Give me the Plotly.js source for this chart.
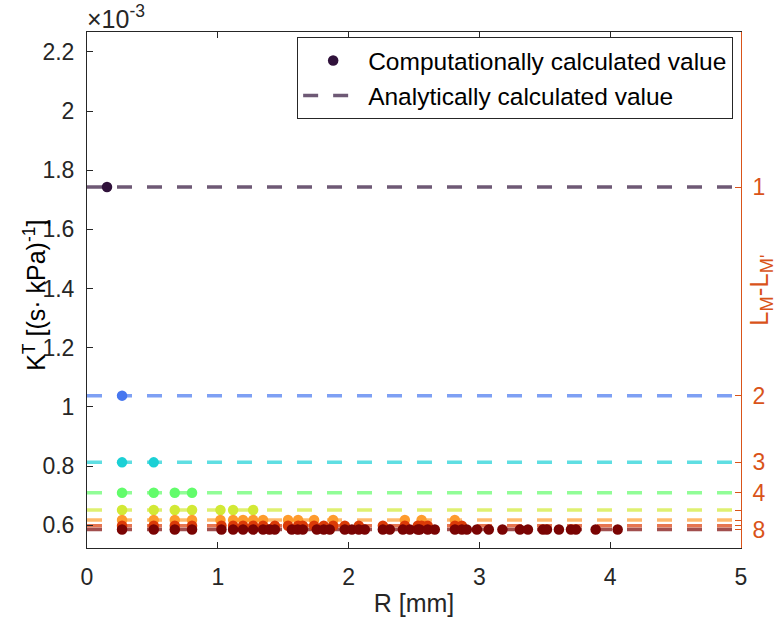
<!DOCTYPE html>
<html>
<head>
<meta charset="utf-8">
<script src="https://cdn.plot.ly/plotly-3.0.1.min.js"></script>
<style>html,body{margin:0;padding:0;background:#fff;}#chart{width:776px;height:619px;}</style>
</head>
<body>
<div id="chart"></div>
<script>
// ---- data (K values in units of 1e-3 (s·kPa)^-1, R in mm) ----
const levelLabels = ['1', '2', '3', '4', '', '', '', '8'];
const analyticK = [1.743, 1.038, 0.8125, 0.710, 0.6513, 0.6175, 0.5983, 0.5854];
const computedK = [1.743, 1.038, 0.8125, 0.710, 0.6513, 0.6175, 0.5983, 0.5854];
const xLimits = [0, 5];

const R1 = [0.153];
const R2 = [0.268];
const R3 = [0.268, 0.510];
const R4 = [0.268, 0.510, 0.671, 0.803];
const R5 = [0.268, 0.510, 0.671, 0.803, 1.020, 1.117, 1.270];
const R6 = [0.268, 0.510, 0.671, 0.803, 1.020, 1.117, 1.193, 1.270, 1.346, 1.537, 1.614, 1.736, 1.882, 2.430, 2.558, 2.812];
const R7 = [0.268, 0.510, 0.671, 0.803, 1.028, 1.117, 1.193, 1.270, 1.346, 1.436, 1.537, 1.614, 1.650, 1.736, 1.810, 1.882, 1.971, 2.078, 2.262, 2.430, 2.529, 2.558, 2.605, 2.813, 2.866];
const R8 = [0.268, 0.510, 0.671, 0.803, 1.028, 1.117, 1.193, 1.270, 1.346, 1.395, 1.436, 1.566, 1.611, 1.650, 1.757, 1.810, 1.856, 1.971, 2.025, 2.078, 2.124, 2.262, 2.315, 2.415, 2.468, 2.529, 2.544, 2.605, 2.659, 2.813, 2.866, 2.904, 2.981, 3.072, 3.176, 3.310, 3.371, 3.486, 3.516, 3.608, 3.700, 3.738, 3.889, 4.057];
const Rsets = [R1, R2, R3, R4, R5, R6, R7, R8];

const pointColors = ['#30123B', '#4777EF', '#1BD0D5', '#62FC6B', '#D2E935', '#FE9B2D', '#DB3A07', '#7A0403'];
const lineColors = ['rgba(48,18,59,0.7)', 'rgba(71,119,239,0.7)', 'rgba(27,208,213,0.7)', 'rgba(98,252,107,0.7)',
                    'rgba(210,233,53,0.7)', 'rgba(254,155,45,0.7)', 'rgba(219,58,7,0.7)', 'rgba(122,4,3,0.7)'];

const FONT = 'Liberation Sans, Arial, Helvetica, sans-serif';
const AX = '#262626';
const RIGHT = '#D95319';
const yRange = [0.523, 2.267];

function ptsTrace(k) {
  return {
    type: 'scatter', mode: 'markers', x: Rsets[k], y: Rsets[k].map(() => computedK[k]),
    yaxis: 'y2', marker: {color: pointColors[k], size: 10.5},
    name: 'Computationally calculated value', showlegend: k === 0, hoverinfo: 'skip'
  };
}
function lineTrace(k) {
  return {
    type: 'scatter', mode: 'lines', x: xLimits, y: [analyticK[k], analyticK[k]],
    yaxis: 'y', line: {color: lineColors[k], width: 3.5, dash: '15px,15px'},
    name: 'Analytically calculated value', showlegend: k === 0, hoverinfo: 'skip'
  };
}

const data = [ptsTrace(0), lineTrace(0)];
for (let k = 1; k < 8; k++) data.push(ptsTrace(k));
for (let k = 1; k < 8; k++) data.push(lineTrace(k));

const layout = {
  width: 776, height: 619,
  margin: {l: 87.3, r: 35, t: 32, b: 71, pad: 0},
  paper_bgcolor: '#fff', plot_bgcolor: '#fff',
  font: {family: FONT, color: AX, size: 23},
  showlegend: true,
  xaxis: {
    range: xLimits, tick0: 0, dtick: 1, ticks: 'inside', ticklen: 6, tickcolor: AX,
    showline: true, linecolor: AX, linewidth: 1, mirror: 'ticks',
    showgrid: false, zeroline: false, tickfont: {size: 23, color: AX},
    ticklabelstandoff: 8,
    title: {text: 'R [mm]', font: {size: 25, color: AX}, standoff: 5}
  },
  yaxis: {
    range: yRange, tick0: 0.2, dtick: 0.2, ticks: 'inside', ticklen: 6, tickcolor: AX,
    showline: true, linecolor: AX, linewidth: 1, showgrid: false, zeroline: false,
    tickfont: {size: 23, color: AX}, ticklabelstandoff: 7
  },
  yaxis2: {
    overlaying: 'y', side: 'right', range: yRange,
    tickmode: 'array', tickvals: analyticK, ticktext: levelLabels,
    ticks: 'inside', ticklen: 6, tickcolor: RIGHT,
    showline: true, linecolor: RIGHT, linewidth: 1, showgrid: false, zeroline: false,
    tickfont: {size: 23, color: RIGHT}, ticklabelstandoff: 6
  },
  legend: {
    x: 0.988, y: 0.99, xanchor: 'right', yanchor: 'top',
    bgcolor: '#fff', bordercolor: AX, borderwidth: 1,
    font: {size: 24.5, color: '#000'}, itemwidth: 60, tracegroupgap: 0
  },
  annotations: [
    {text: '×10<sup>-3</sup>', xref: 'paper', yref: 'paper', x: 0, y: 1, xanchor: 'left', yanchor: 'bottom',
     showarrow: false, font: {size: 25, color: AX}, yshift: -3, xshift: -2},
    {text: 'K<sup>T</sup> [(s· kPa)<sup>-1</sup>]', xref: 'paper', yref: 'paper', x: -0.08, y: 0.49,
     xanchor: 'center', yanchor: 'middle', textangle: -90, showarrow: false, font: {size: 25, color: '#000'}},
    {text: 'L<sub>M</sub>-L<sub>M\'</sub>', xref: 'paper', yref: 'paper', x: 1.029, y: 0.5,
     xanchor: 'center', yanchor: 'middle', textangle: -90, showarrow: false, font: {size: 26, color: RIGHT}}
  ]
};

Plotly.newPlot('chart', data, layout, {displayModeBar: false, staticPlot: true});
</script>
</body>
</html>
